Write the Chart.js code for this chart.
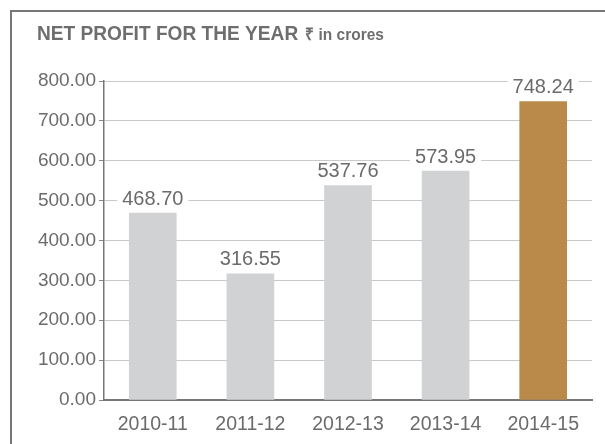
<!DOCTYPE html>
<html>
<head>
<meta charset="utf-8">
<script src="https://cdn.jsdelivr.net/npm/chart.js@4/dist/chart.umd.min.js"></script>
<style>
html,body{margin:0;padding:0;background:#fff;}
#wrap{width:605px;height:444px;position:relative;}
</style>
</head>
<body>
<div id="wrap"><canvas id="c" width="605" height="444"></canvas></div>
<script>
const categories = ['2010-11', '2011-12', '2012-13', '2013-14', '2014-15'];
const profitValues = [468.70, 316.55, 537.76, 573.95, 748.24];
const yTickValues = [0, 100, 200, 300, 400, 500, 600, 700, 800];
const barColors = ['#d1d2d4', '#d1d2d4', '#d1d2d4', '#d1d2d4', '#b98a4a'];
const titleMain = 'NET PROFIT FOR THE YEAR';
const titleUnit = '\u20B9 in crores';

const FONT = "'Liberation Sans', Arial, sans-serif";
const TEXT = '#6b6b6b';

const framePlugin = {
  id: 'frame',
  beforeDraw(chart) {
    const ctx = chart.ctx;
    ctx.save();
    ctx.fillStyle = '#fff';
    ctx.fillRect(0, 0, chart.width, chart.height);
    ctx.strokeStyle = '#777';
    ctx.lineWidth = 2;
    ctx.beginPath();
    ctx.moveTo(11, chart.height);
    ctx.lineTo(11, 11);
    ctx.lineTo(chart.width, 11);
    ctx.stroke();
    ctx.fillStyle = '#6e6e6e';
    ctx.textBaseline = 'alphabetic';
    ctx.textAlign = 'left';
    const sx = 0.91;
    ctx.translate(37, 40);
    ctx.scale(sx, 1);
    ctx.font = "bold 21px " + FONT;
    ctx.fillText(titleMain, 0, 0);
    const w = ctx.measureText(titleMain).width;
    ctx.font = "bold 17px " + FONT;
    ctx.fillText(titleUnit, w + 7 / sx, 0);
    ctx.restore();
  }
};

const valueLabels = {
  id: 'valueLabels',
  afterDatasetsDraw(chart) {
    const ctx = chart.ctx;
    const meta = chart.getDatasetMeta(0);
    ctx.save();
    ctx.font = "20px " + FONT;
    ctx.textAlign = 'center';
    ctx.textBaseline = 'middle';
    meta.data.forEach((bar, i) => {
      const txt = profitValues[i].toFixed(2);
      const w = ctx.measureText(txt).width;
      const y = bar.y - 15;
      ctx.fillStyle = '#fff';
      ctx.fillRect(bar.x - w / 2 - 5, y - 9, w + 10, 18);
      ctx.fillStyle = TEXT;
      ctx.fillText(txt, bar.x, y + 1);
    });
    ctx.restore();
  }
};

new Chart(document.getElementById('c'), {
  type: 'bar',
  data: {
    labels: categories,
    datasets: [{
      data: profitValues,
      backgroundColor: barColors,
      borderWidth: 0,
      barThickness: 47
    }]
  },
  options: {
    responsive: false,
    animation: false,
    devicePixelRatio: 1,
    layout: { padding: { left: 0, right: 13, top: 81, bottom: 0 } },
    plugins: { legend: { display: false }, tooltip: { enabled: false }, title: { display: false } },
    scales: {
      x: {
        grid: { display: false, drawTicks: false },
        border: { display: true, color: '#777', width: 2 },
        ticks: { color: TEXT, font: { family: FONT, size: 19.5 }, padding: 13 },
        afterFit(s) { s.height = 44; }
      },
      y: {
        min: 0, max: 800,
        afterBuildTicks(s) { s.ticks = yTickValues.map(v => ({ value: v })); },
        grid: { color: '#c9c9cb', lineWidth: 1, tickLength: 5, tickColor: '#888' },
        border: { display: true, color: '#777', width: 1.5 },
        ticks: { color: TEXT, font: { family: FONT, size: 19 }, padding: 3,
          callback: v => Number(v).toFixed(2) },
        afterFit(s) { s.width = 104; }
      }
    }
  },
  plugins: [framePlugin, valueLabels]
});
</script>
</body>
</html>
